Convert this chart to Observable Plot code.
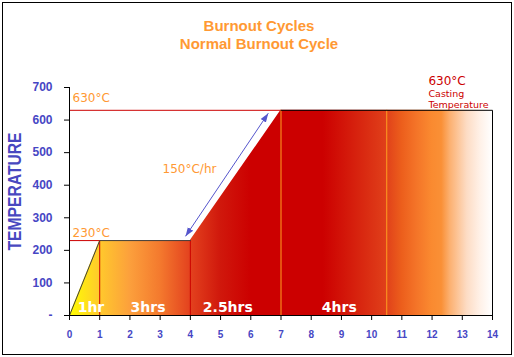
<!DOCTYPE html>
<html><head><meta charset="utf-8">
<script src="https://cdn.jsdelivr.net/npm/d3@7"></script>
<script src="https://cdn.jsdelivr.net/npm/@observablehq/plot@0.6"></script>
<style>
html,body{margin:0;padding:0;background:#fff;}
#wrap{position:relative;width:514px;height:357px;overflow:hidden;}
#border{position:absolute;left:2px;top:2px;width:508px;height:351px;border:1px solid #000;pointer-events:none;}
#chart{position:absolute;left:0;top:0;}
</style></head><body>
<div id="wrap"><div id="chart"></div><div id="border"></div></div>
<script>
// ---- data ----
const hours = [0, 1, 4, 7, 14];
const temps = [0, 230, 230, 630, 630];
const xTicks = [0, 1, 2, 3, 4, 5, 6, 7, 8, 9, 10, 11, 12, 13, 14];
const yTicks = [0, 100, 200, 300, 400, 500, 600, 700];
const refTemps = [630, 230];
const refEnds = [7, 1];
const redDividers = [1, 4];
const redDividerTops = [230, 230];
const orangeDividers = [7, 10.5];
const orangeDividerTops = [630, 630];
const phaseLabels = ["1hr", "3hrs", "2.5hrs", "4hrs"];
const phaseLabelX = [0.71, 2.6, 5.24, 8.93];
const arrowFrom = [3.84, 243];
const arrowTo = [6.58, 621];
const rateLabel = ["150°C/hr"];
const rateLabelPos = [3.08, 439];
const levelLabels = ["630°C", "230°C"];
const levelLabelY = [654, 239.5];
const castLabels = ["630°C", "Casting", "Temperature"];
const castLabelX = 11.88;
const castLabelY = [709, 672, 637];
const titleLines = ["Burnout Cycles", "Normal Burnout Cycle"];
const yTitle = ["TEMPERATURE"];

// ---- styles ----
const gradStops = [
  [0, "#ffff00"], [0.071, "#ffca2c"], [0.143, "#fca03c"], [0.214, "#f47a2e"],
  [0.283, "#e4441f"], [0.357, "#d0180c"], [0.43, "#cc0000"], [0.6, "#cc0000"],
  [0.75, "#e0401a"], [0.786, "#ec5e1c"], [0.821, "#f47428"], [0.857, "#fa8a30"],
  [0.88, "#fa9036"], [0.9, "#fcb070"], [0.94, "#fddcc4"], [0.97, "#fff0e6"], [1, "#ffffff"]
];
const tickColor = "#4646c4";
const orange = "#ff9933";
const red = "#cc0000";

const profile = hours.map((h, i) => ({h, t: temps[i]}));
const lowOutline = profile.slice(0, 3);
const highOutline = [profile[3], profile[4], {h: hours[4], t: 0}];

const chart = Plot.plot({
  width: 514, height: 357,
  marginLeft: 69, marginRight: 22, marginTop: 87, marginBottom: 42,
  style: {background: "transparent", overflow: "visible"},
  x: {domain: [0, 14]},
  y: {domain: [0, 700]},
  marks: [
    Plot.areaY(profile, {x: "h", y: "t", fill: "url(#burnGrad)", curve: "linear"}),
    Plot.ruleY(refTemps, {y: d => d, x1: 0, x2: (d, i) => refEnds[i], stroke: red, strokeWidth: 1}),
    Plot.ruleX(redDividers, {x: d => d, y1: 0, y2: (d, i) => redDividerTops[i], stroke: red, strokeWidth: 1}),
    Plot.ruleX(orangeDividers, {x: d => d, y1: 0, y2: (d, i) => orangeDividerTops[i], stroke: "#ffa020", strokeWidth: 1}),
    Plot.line(lowOutline, {x: "h", y: "t", stroke: "#404040", strokeWidth: 1}),
    Plot.line(highOutline, {x: "h", y: "t", stroke: "#000", strokeWidth: 1}),
    Plot.link([0], {x1: arrowFrom[0], y1: arrowFrom[1], x2: arrowTo[0], y2: arrowTo[1], stroke: "#5555cc", strokeWidth: 1}),
    Plot.ruleX([0], {stroke: "#000"}),
    Plot.ruleY([0], {stroke: "#000"}),
    Plot.axisX({ticks: xTicks, tickSize: 5, tickPadding: 10, label: null, fill: tickColor, fontWeight: "bold", fontSize: 10, fontFamily: "'Liberation Sans', Arial, sans-serif", tickFormat: d => d}),
    Plot.axisY({ticks: yTicks, tickSize: 5, tickPadding: 12, label: null, fill: tickColor, fontWeight: "bold", fontSize: 12, fontFamily: "'Liberation Sans', Arial, sans-serif", tickFormat: d => d === 0 ? "-" : d}),
    Plot.text(phaseLabels, {x: (d, i) => phaseLabelX[i], frameAnchor: "bottom", lineAnchor: "bottom", dy: -4, fill: "#fff", fontWeight: "bold", fontSize: 14, fontFamily: "'DejaVu Sans', Verdana, sans-serif"}),
    Plot.text(rateLabel, {x: rateLabelPos[0], y: rateLabelPos[1], textAnchor: "start", lineAnchor: "bottom", fill: orange, fontSize: 12, fontFamily: "'DejaVu Sans', Verdana, sans-serif"}),
    Plot.text(levelLabels, {x: 0, y: (d, i) => levelLabelY[i], dx: 3, textAnchor: "start", lineAnchor: "bottom", fill: orange, fontSize: 12, fontFamily: "'DejaVu Sans', Verdana, sans-serif"}),
    Plot.text(castLabels, {x: castLabelX, y: (d, i) => castLabelY[i], textAnchor: "start", lineAnchor: "bottom", fill: red, fontSize: (d, i) => i === 0 ? 12 : 9.5, fontFamily: "'DejaVu Sans', Verdana, sans-serif"}),
    Plot.text([titleLines[0]], {frameAnchor: "top", textAnchor: "middle", dx: -22, dy: -57, lineAnchor: "bottom", fill: orange, fontWeight: "bold", fontSize: 15, fontFamily: "'Liberation Sans', Arial, sans-serif"}),
    Plot.text([titleLines[1]], {frameAnchor: "top", textAnchor: "middle", dx: -22, dy: -39, lineAnchor: "bottom", fill: orange, fontWeight: "bold", fontSize: 15, fontFamily: "'Liberation Sans', Arial, sans-serif"}),
    Plot.text(yTitle, {frameAnchor: "left", textAnchor: "middle", lineAnchor: "middle", rotate: -90, dx: -54, dy: -10, fill: "#4848c0", fontWeight: "bold", fontSize: 18.5, fontFamily: "'Liberation Sans', Arial, sans-serif"})
  ]
});
document.getElementById("chart").appendChild(chart);

const svg = chart.tagName.toLowerCase() === "svg" ? chart : chart.querySelector("svg");
const defs = document.createElementNS("http://www.w3.org/2000/svg", "defs");
defs.innerHTML =
  `<linearGradient id="burnGrad" x1="0" y1="0" x2="1" y2="0">` +
  gradStops.map(([o, c]) => `<stop offset="${o}" stop-color="${c}"/>`).join("") +
  `</linearGradient>` +
  `<marker id="ahead" viewBox="0 0 10 10" refX="10" refY="5" markerWidth="9" markerHeight="9" markerUnits="userSpaceOnUse" orient="auto-start-reverse"><path d="M0,1.5L10,5L0,8.5z" fill="#5555cc"/></marker>`;
svg.insertBefore(defs, svg.firstChild);
svg.querySelectorAll('g[aria-label="link"] path, g[aria-label="link"] line').forEach(p => {
  p.setAttribute("marker-start", "url(#ahead)");
  p.setAttribute("marker-end", "url(#ahead)");
});
svg.querySelectorAll("text").forEach(t => {
  if (t.textContent === yTitle[0]) {
    t.setAttribute("textLength", "118");
    t.setAttribute("lengthAdjust", "spacingAndGlyphs");
  }
});
</script>
</body></html>
